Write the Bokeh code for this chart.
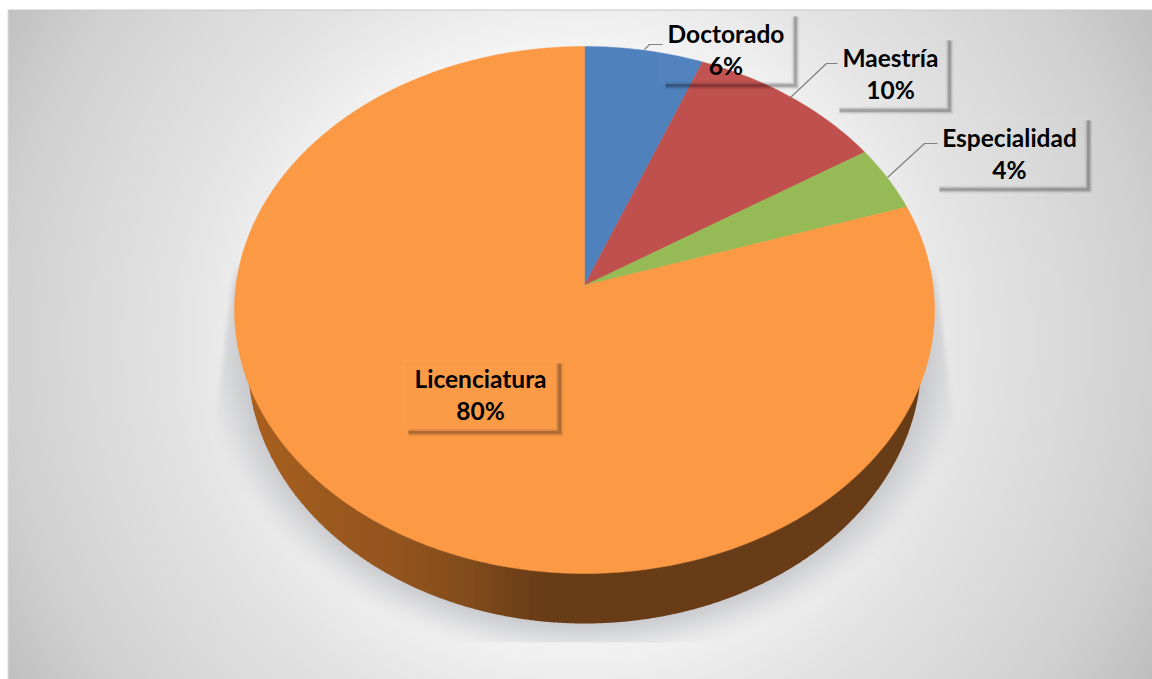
import numpy as np
from bokeh.plotting import figure
from bokeh.models import Range1d
from bokeh.core.properties import value
from bokeh.embed import file_html
from bokeh.resources import INLINE

categories = ["Doctorado", "Maestría", "Especialidad", "Licenciatura"]
shares = [6, 10, 4, 80]
colors = ["#4F81BD", "#C0504D", "#96BA55", "#FB9945"]

W, H = 1152, 679
CX, CY = 584.0, 285.0
A, B, K = 348.5, 261.2, 0.093   # perspective of the disc

def Y(v):
    return -np.asarray(v, dtype=float)

p = figure(width=W, height=H, x_range=Range1d(0, W), y_range=Range1d(-H, 0),
           output_backend="svg", toolbar_location=None, min_border=0,
           background_fill_color="#FFFFFF", border_fill_color="#FFFFFF", outline_line_color=None)
p.axis.visible = False
p.grid.visible = False

# ---- background: radial gradient + soft clipped shadow
xs = np.arange(0, W) + 0.5
ys = np.arange(0, H) + 0.5
gx, gy = np.meshgrid(xs, ys)
dist = np.hypot(gx - 576, gy - 340)
bg = np.interp(dist, [0, 300, 400, 570, 670], [248, 243, 227, 209, 190])
rgb = np.stack([bg, bg, bg], axis=-1)

r = np.sqrt(((gx - 584) / 392) ** 2 + ((gy - 345) / 320) ** 2)
a = np.clip((1 - r) / 0.17, 0, 1)
a = a * a * (3 - 2 * a)
half = 350 + (gy - 260) * 0.12
a *= np.clip((half - np.abs(gx - 584)) / 6 + 0.5, 0, 1)
a *= np.clip((gy - 262) / 20, 0, 1)
a *= np.clip(642 - gy + 0.5, 0, 1)
target = np.array([197, 198, 202], dtype=float)
rgb = rgb * (1 - a[..., None]) + target * a[..., None]
rgb[(ys >= 9) & (ys < 10), :] = 200
rgb[:, (xs >= 7) & (xs < 8)] = 222
rgb[ys < 9, :] = 255
rgb[:, xs < 7] = 255

img = np.zeros((H, W), dtype=np.uint32)
view = img.view(dtype=np.uint8).reshape((H, W, 4))
view[..., :3] = np.round(rgb).astype(np.uint8)
view[..., 3] = 255
p.image_rgba(image=[img[::-1]], x=0, y=-H, dw=W, dh=H)

# ---- side wall, drawn in vertical strips (shading from left to right)
RX2, RY2, YC2 = 337.0, 264.0, 359.0
edges = np.arange(CX - RX2, CX + RX2 + 0.01, 6.0)
shade_x = [247, 300, 400, 470, 520, 545, 930]
shade_r = [170, 160, 146, 130, 112, 105, 105]
shade_g = [ 96,  92,  84,  76,  64,  60,  60]
shade_b = [ 30,  30,  30,  28,  24,  24,  24]
sx, sy, sc = [], [], []
for x0, x1 in zip(edges[:-1], edges[1:]):
    xm = np.linspace(x0, x1 + 0.6, 5)
    low = YC2 + RY2 * np.sqrt(np.clip(1 - ((xm - CX) / RX2) ** 2, 0, 1))
    sx.append(np.r_[xm, xm[::-1]])
    sy.append(Y(np.r_[low, np.full(5, 330.0)]))
    mid = (x0 + x1) / 2
    sc.append("#%02x%02x%02x" % (int(np.interp(mid, shade_x, shade_r)),
                                  int(np.interp(mid, shade_x, shade_g)),
                                  int(np.interp(mid, shade_x, shade_b))))
p.patches(sx, sy, fill_color=sc, line_color=None)

# ---- top face: one slice per share, through the perspective of the disc
def project(theta):
    u, v = np.sin(theta), np.cos(theta)
    w = 1 + K * v
    return CX + A * u / w, CY - B * v / w

cum = np.cumsum([0] + shares) / sum(shares) * 2 * np.pi
px, py = [], []
for t0, t1 in zip(cum[:-1], cum[1:]):
    th = np.linspace(t0, t1, max(8, int((t1 - t0) * 60)))
    ex, ey = project(th)
    px.append(np.r_[CX, ex, CX])
    py.append(Y(np.r_[CY, ey, CY]))
p.patches(px, py, fill_color=colors, line_color=colors, line_width=0.5)

# ---- labels
label_cx = [725.5, 890, 1009, 480]
name_y = [33, 57, 137, 378]
pct_y = [65, 89, 169, 410]
box_l = [659, 833, 933, 402]
box_r = [794, 948, 1087, 558]
box_t = [13, 37, 117, 360]
box_b = [83, 108, 187, 430]
leader_x = [[644, 649, 662], [790, 826, 837], [887, 924, 937]]
leader_y = [[49, 44, 44], [97, 63, 63], [177, 143, 143]]

for lx, ly in zip(leader_x, leader_y):
    p.line(lx, Y(ly), line_color="#7F7F7F", line_width=1.2)

# translucent boxes with a soft shadow on right and bottom
for l, r_, t, b in zip(box_l, box_r, box_t, box_b):
    p.quad(left=l, right=r_, top=Y(t), bottom=Y(b), fill_color="#FFFFFF", fill_alpha=0.02,
           line_color="#FFFFFF", line_alpha=0.06)
    for w, al in [(8, 0.04), (6, 0.06), (3.5, 0.22)]:
        p.line([l + 6, r_ + 1, r_ + 1], Y([b + 2, b + 2, t + 3]), line_color="#000000",
               line_alpha=al, line_width=w, line_join="miter")

name_font = value("Lato")
p.text(label_cx, Y(name_y), text=categories, text_font=name_font, text_font_style="bold",
       text_font_size="24.5px", text_color="#000000", text_align="center", text_baseline="middle")
p.text(label_cx, Y(pct_y), text=[f"{s}%" for s in shares], text_font=name_font,
       text_font_style="bold", text_font_size="24.5px", text_color="#000000",
       text_align="center", text_baseline="middle")

open("out.html", "w").write(file_html(p, INLINE))
